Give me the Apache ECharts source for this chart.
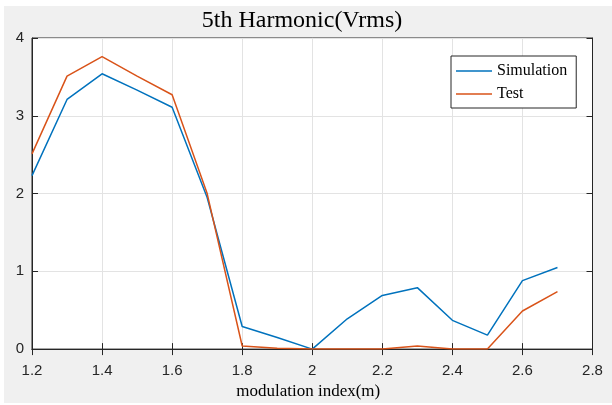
<!DOCTYPE html>
<html>
<head>
<meta charset="utf-8">
<script src="https://cdn.jsdelivr.net/npm/echarts@6/dist/echarts.min.js"></script>
<style>
html,body{margin:0;padding:0;background:#ffffff;}
#chart{width:612px;height:405px;}
</style>
</head>
<body>
<div id="chart"></div>
<script>
var modulationIndex = [1.2, 1.3, 1.4, 1.5, 1.6, 1.7, 1.8, 1.9, 2.0, 2.1, 2.2, 2.3, 2.4, 2.5, 2.6, 2.7];
var simulation = [2.23, 3.21, 3.54, 3.33, 3.11, 1.95, 0.29, 0.15, 0.00, 0.39, 0.69, 0.79, 0.37, 0.18, 0.88, 1.05];
var test = [2.51, 3.51, 3.76, 3.51, 3.27, 2.00, 0.04, 0.01, 0.00, 0.00, 0.00, 0.04, 0.00, 0.00, 0.49, 0.74];
var xTicks = [1.2, 1.4, 1.6, 1.8, 2, 2.2, 2.4, 2.6, 2.8];
var yTicks = [0, 1, 2, 3, 4];

function pairs(xs, ys) { return xs.map(function (x, i) { return [x, ys[i]]; }); }

var axisColor = '#262626';
var gridColor = '#e3e3e3';

var chart = echarts.init(document.getElementById('chart'), null, {renderer: 'canvas'});
chart.setOption({
  animation: false,
  backgroundColor: 'transparent',
  graphic: [{
    type: 'rect', z: -10, silent: true,
    shape: {x: 4, y: 6, width: 608, height: 397},
    style: {fill: '#f0f0f0'}
  }],
  title: {
    text: '5th Harmonic(Vrms)',
    left: 302, top: 9, textAlign: 'center', padding: 0,
    textStyle: {fontFamily: 'Liberation Serif', fontSize: 24, fontWeight: 'normal', color: '#000'}
  },
  grid: {
    left: 32, right: 19.5, top: 38, bottom: 55,
    show: true, backgroundColor: '#ffffff', borderColor: axisColor, borderWidth: 1
  },
  legend: {
    orient: 'vertical', left: 451, top: 56,
    padding: [7, 9, 6, 5], itemGap: 7, itemWidth: 36, itemHeight: 1.5,
    icon: 'rect',
    backgroundColor: '#ffffff', borderColor: axisColor, borderWidth: 1, borderRadius: 0,
    textStyle: {fontFamily: 'Liberation Serif', fontSize: 16, color: '#000', lineHeight: 16},
    data: ['Simulation', 'Test']
  },
  xAxis: [{
    type: 'value', min: 1.2, max: 2.8, interval: 0.2, position: 'bottom',
    name: 'modulation index(m)', nameLocation: 'middle', nameGap: 31,
    nameTextStyle: {fontFamily: 'Liberation Serif', fontSize: 17, color: '#000', padding: [0, 8, 0, 0]},
    axisLine: {show: true, lineStyle: {color: axisColor, width: 1}},
    axisTick: {show: true, inside: true, length: 6, lineStyle: {color: axisColor}},
    axisLabel: {fontFamily: 'Liberation Sans', fontSize: 15, color: axisColor, margin: 14,
      formatter: function (v) { var r = Math.round(v * 10) / 10; return xTicks.indexOf(r) >= 0 ? String(r) : ''; }},
    splitLine: {show: true, lineStyle: {color: gridColor, width: 1}}
  }, {
    type: 'value', min: 1.2, max: 2.8, interval: 0.2, position: 'top',
    axisLine: {show: true, lineStyle: {color: axisColor, width: 1}},
    axisTick: {show: true, inside: true, length: 6, lineStyle: {color: axisColor}},
    axisLabel: {show: false}, splitLine: {show: false}
  }],
  yAxis: [{
    type: 'value', min: 0, max: 4, interval: 1, position: 'left',
    axisLine: {show: true, lineStyle: {color: axisColor, width: 1}},
    axisTick: {show: true, inside: true, length: 6, lineStyle: {color: axisColor}},
    axisLabel: {fontFamily: 'Liberation Sans', fontSize: 15, color: axisColor, margin: 8, padding: [8, 0, 0, 0],
      formatter: function (v) { return yTicks.indexOf(v) >= 0 ? String(v) : ''; }},
    splitLine: {show: true, lineStyle: {color: gridColor, width: 1}}
  }, {
    type: 'value', min: 0, max: 4, interval: 1, position: 'right',
    axisLine: {show: true, lineStyle: {color: axisColor, width: 1}},
    axisTick: {show: true, inside: true, length: 6, lineStyle: {color: axisColor}},
    axisLabel: {show: false}, splitLine: {show: false}
  }],
  series: [{
    name: 'Simulation', type: 'line', xAxisIndex: 0, yAxisIndex: 0,
    data: pairs(modulationIndex, simulation),
    symbol: 'none', color: '#0072BD',
    lineStyle: {color: '#0072BD', width: 1.5}
  }, {
    name: 'Test', type: 'line', xAxisIndex: 0, yAxisIndex: 0,
    data: pairs(modulationIndex, test),
    symbol: 'none', color: '#D95319',
    lineStyle: {color: '#D95319', width: 1.5}
  }]
});
</script>
</body>
</html>
